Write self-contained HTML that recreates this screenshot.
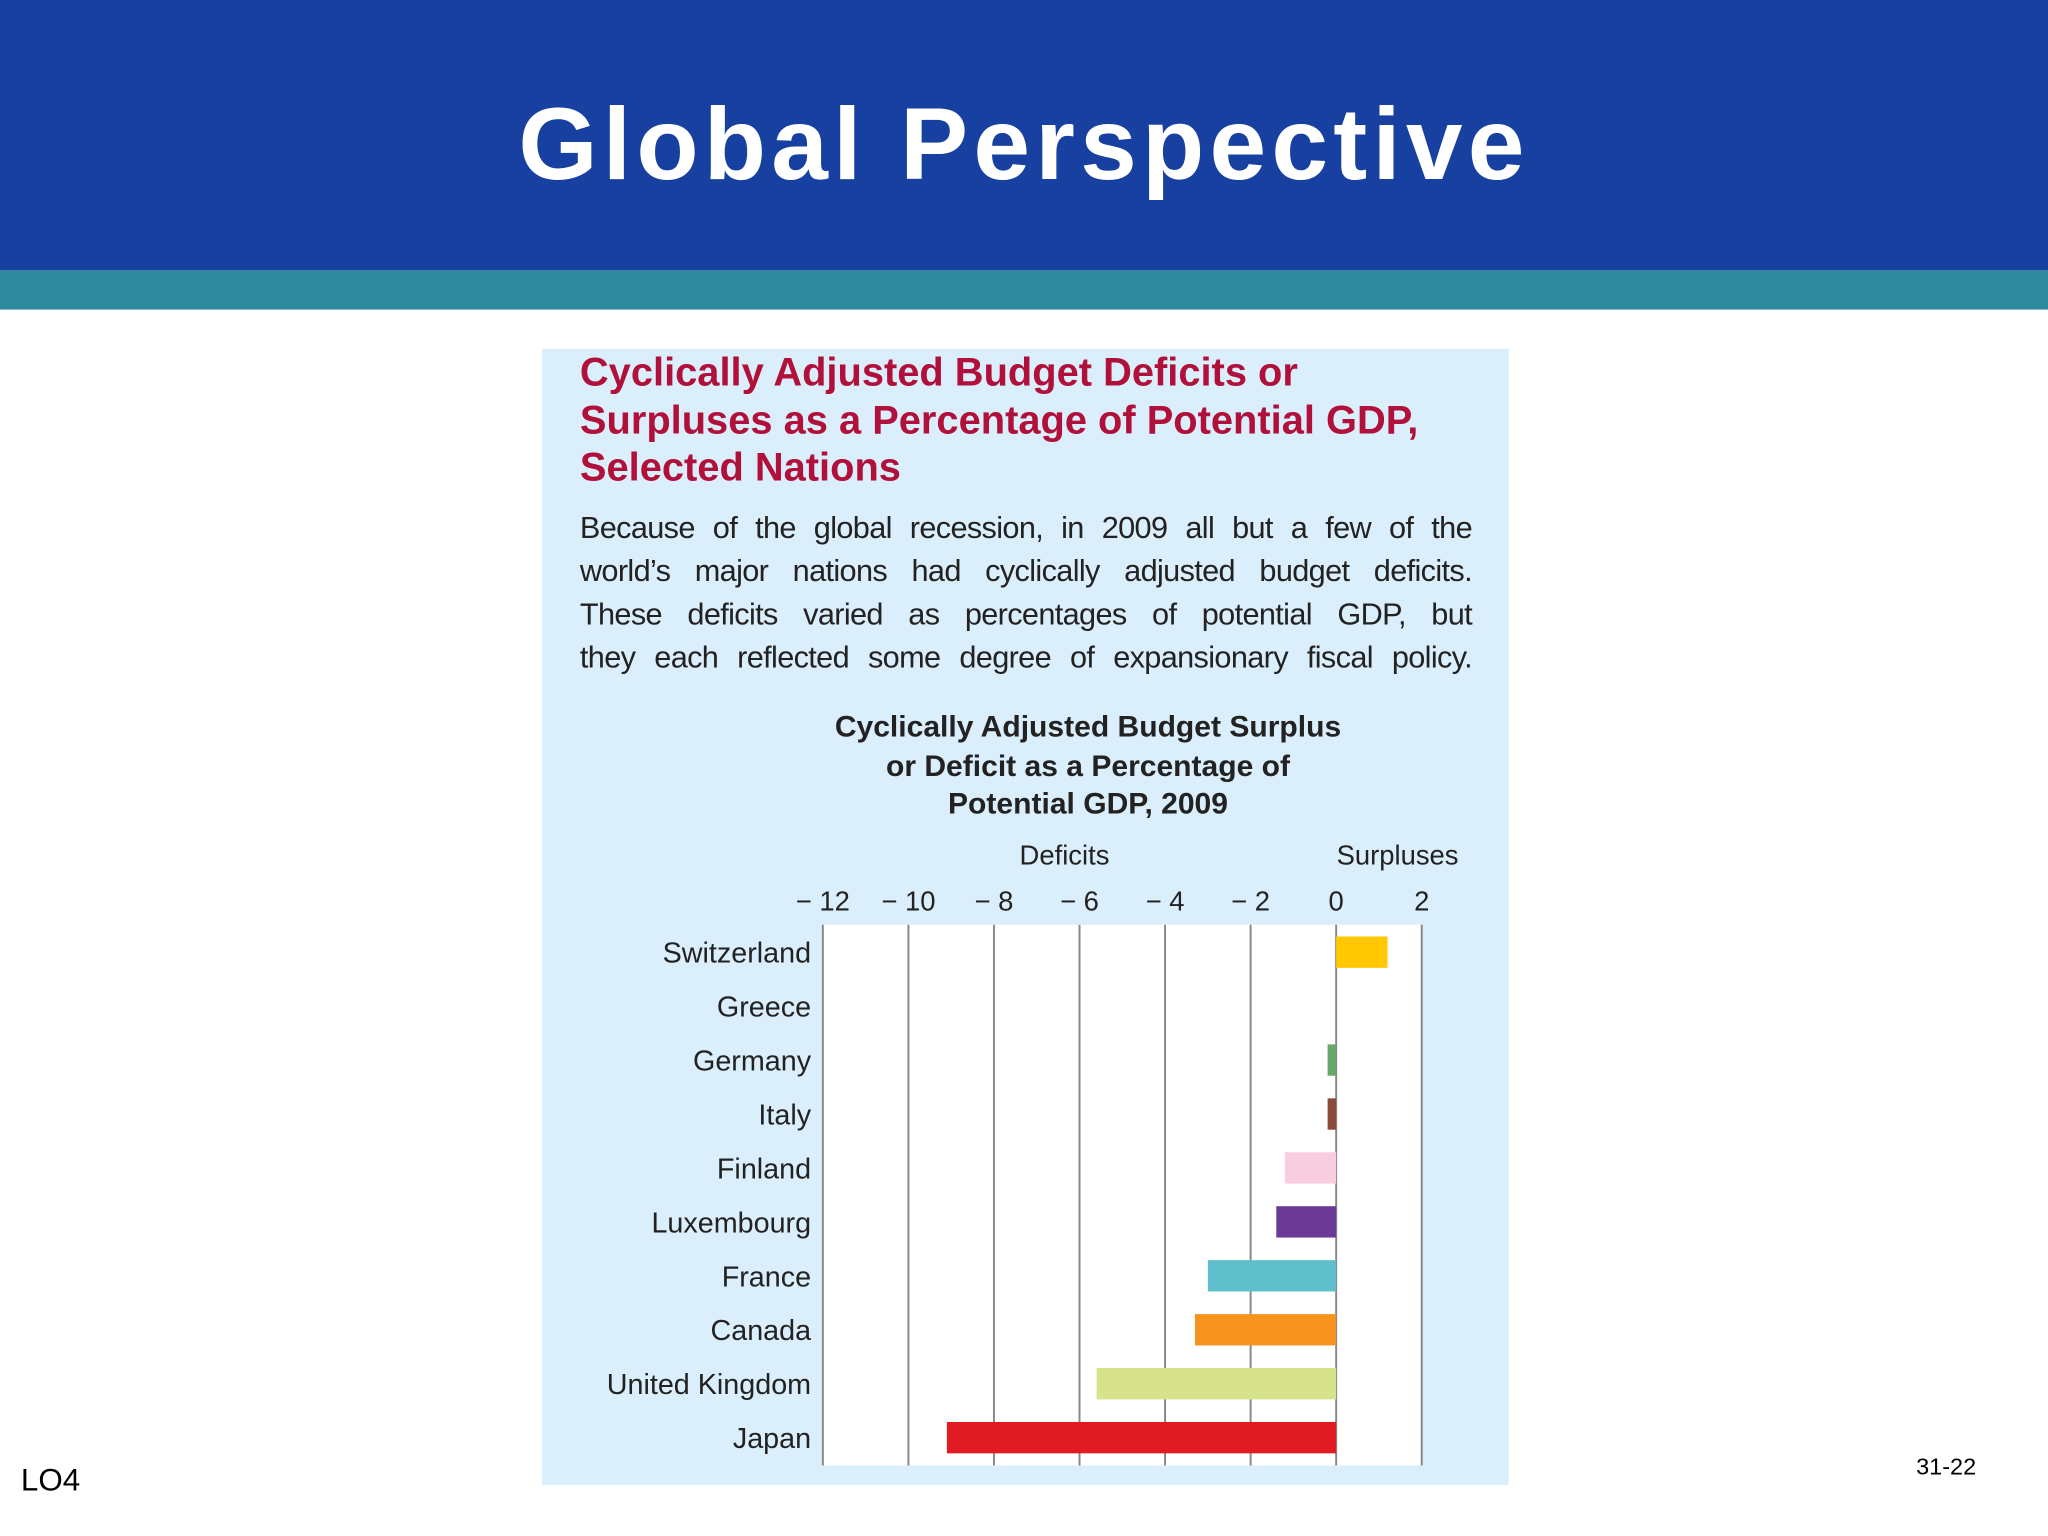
<!DOCTYPE html>
<html><head><meta charset="utf-8"><style>
html,body{margin:0;padding:0;background:#fff;overflow:hidden}
#page{position:absolute;left:0;top:0;width:1568px;height:1176px;transform:scale(1.306122);transform-origin:0 0;font-family:"Liberation Sans",sans-serif}
.abs{position:absolute}
.bl{width:683px;text-align:justify;text-align-last:justify;height:33px;white-space:nowrap}
</style></head><body>
<div id="page">
<div class="abs" style="left:0;top:0;width:1568px;height:207px;background:#1740a0"></div>
<div class="abs" style="left:0;top:207px;width:1568px;height:30px;background:#2e8a9e"></div>
<div class="abs" style="left:0;top:62px;width:1568px;text-align:center;color:#fff;font-weight:bold;font-size:78px;letter-spacing:4px;line-height:96px">Global Perspective</div>
<div class="abs" style="left:415px;top:267px;width:740px;height:870px;background:#dbeefb"></div>
<div class="abs" style="left:444px;top:267px;width:720px;color:#b0103a;font-weight:bold;font-size:30.5px;line-height:36.5px;white-space:nowrap">Cyclically Adjusted Budget Deficits or<br>Surpluses as a Percentage of Potential GDP,<br>Selected Nations</div>
<div class="abs" style="left:444px;top:388px;color:#222;font-size:23.5px;line-height:33px;letter-spacing:-0.5px">
<div class="bl" style="white-space:normal">Because of the global recession, in 2009 all but a few of the</div>
<div class="bl" style="white-space:normal">world’s major nations had cyclically adjusted budget deficits.</div>
<div class="bl" style="white-space:normal">These deficits varied as percentages of potential GDP, but</div>
<div class="bl" style="white-space:normal">they each reflected some degree of expansionary fiscal policy.</div>
</div>
<div class="abs" style="left:533px;top:542px;width:600px;text-align:center;color:#222;font-weight:bold;font-size:23px;line-height:29.5px">Cyclically Adjusted Budget Surplus<br>or Deficit as a Percentage of<br>Potential GDP, 2009</div>
<svg id="chart" class="abs" style="left:0;top:0" width="1568" height="1176" font-family="Liberation Sans, sans-serif"></svg>
<div class="abs" style="left:16px;top:1120px;font-size:24px;color:#000">LO4</div>
<div class="abs" style="left:1467px;top:1113px;font-size:18px;color:#000">31-22</div>
</div>
<script>
const countries=["Switzerland","Greece","Germany","Italy","Finland","Luxembourg","France","Canada","United Kingdom","Japan"];
const values=[1.2,0,-0.2,-0.2,-1.2,-1.4,-3.0,-3.3,-5.6,-9.1];
const colors=["#ffc800","#9ecf8a","#6aa86a","#8b4a3c","#f9cde0","#6b3a96","#5fc0cc","#f7941d","#d6e38a","#e01b22"];
const ticks=[-12,-10,-8,-6,-4,-2,0,2];
const tickLabels=["\u2212 12","\u2212 10","\u2212 8","\u2212 6","\u2212 4","\u2212 2","0","2"];
const NS="http://www.w3.org/2000/svg";
const svg=document.getElementById('chart');
const x0=1023,unit=32.75,plotTop=708,plotBottom=1122,rowH=41.3,firstY=729,barH=24;
const xs=v=>x0+v*unit;
const ys=i=>firstY+i*rowH;
function mk(t,a){const e=document.createElementNS(NS,t);for(const k in a)e.setAttribute(k,a[k]);svg.appendChild(e);return e;}
const bg=mk('rect',{x:xs(-12),y:plotTop,width:xs(2)-xs(-12),height:plotBottom-plotTop,fill:'#fff'});


ticks.forEach((t,i)=>{
 const l=mk('line',{x1:xs(t),x2:xs(t),y1:plotTop,y2:plotBottom,stroke:'#888','stroke-width':1.5});
 
 
 const tx=mk('text',{x:xs(t),y:697,'text-anchor':'middle','font-size':21,fill:'#222'});
 tx.textContent=tickLabels[i];
 
 
});
const d=mk('text',{x:815,y:662,'text-anchor':'middle','font-size':21,fill:'#222'});d.textContent='Deficits';


const s=mk('text',{x:1070,y:662,'text-anchor':'middle','font-size':21,fill:'#222'});s.textContent='Surpluses';


countries.forEach((c,i)=>{
 const y=ys(i);
 const lb=mk('text',{x:621,y:y+8,'text-anchor':'end','font-size':22,fill:'#222'});lb.textContent=c;
 
 
 const v=values[i];
 if(v!==0){
  const r=mk('rect',{x:Math.min(xs(v),xs(0)),y:y-barH/2,width:Math.abs(xs(v)-xs(0)),height:barH,fill:colors[i]});
  
  
 }
});
</script>
</body></html>
